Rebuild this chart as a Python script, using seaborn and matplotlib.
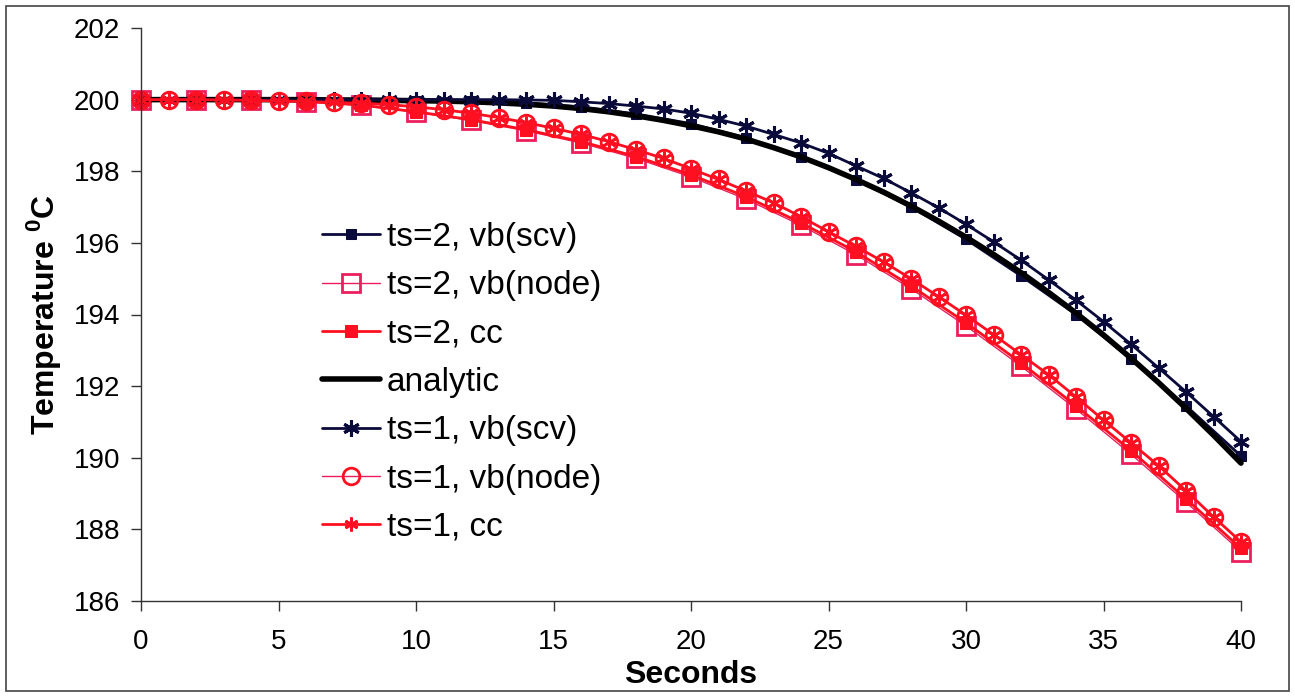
import matplotlib
matplotlib.use("Agg")
import matplotlib.pyplot as plt
import seaborn as sns
from matplotlib.patches import Rectangle

# ---- data ----
t2 = [0, 2, 4, 6, 8, 10, 12, 14, 16, 18, 20, 22, 24, 26, 28, 30, 32, 34, 36, 38, 40]
t1 = list(range(0, 41))

ts2_vb_scv = [200.0, 200.0, 200.0, 200.0, 199.99, 199.97, 199.95, 199.91, 199.8, 199.6, 199.33,
              198.93, 198.4, 197.76, 197.0, 196.1, 195.08, 194.0, 192.75, 191.45, 190.05]
ts2_vb_node = [200.0, 200.0, 199.99, 199.94, 199.84, 199.65, 199.42, 199.13, 198.79, 198.36, 197.84,
               197.22, 196.49, 195.67, 194.72, 193.68, 192.56, 191.36, 190.1, 188.76, 187.38]
ts2_cc = [200.0, 200.0, 199.99, 199.95, 199.85, 199.66, 199.44, 199.16, 198.83, 198.41, 197.9,
          197.29, 196.56, 195.75, 194.8, 193.77, 192.65, 191.45, 190.2, 188.85, 187.47]
analytic = [200.0, 200.0, 200.0, 200.0, 200.0, 200.0, 200.0, 199.99, 199.99, 199.98, 199.97,
            199.96, 199.94, 199.91, 199.87, 199.82, 199.75, 199.66, 199.55, 199.42, 199.27,
            199.1, 198.9, 198.66, 198.4, 198.1, 197.77, 197.42, 197.03, 196.61, 196.16,
            195.68, 195.17, 194.62, 194.04, 193.43, 192.78, 192.1, 191.38, 190.63, 189.85]
ts1_vb_scv = [200.0, 200.0, 200.0, 200.0, 200.0, 200.0, 200.0, 200.0, 200.0, 200.0, 200.0,
              200.0, 200.0, 200.0, 199.99, 199.98, 199.94, 199.89, 199.82, 199.74, 199.62,
              199.45, 199.26, 199.03, 198.79, 198.5, 198.15, 197.8, 197.4, 196.98, 196.52,
              196.03, 195.52, 194.97, 194.4, 193.8, 193.17, 192.51, 191.84, 191.15, 190.45]
ts1_vb_node = [200.0, 200.0, 200.0, 199.99, 199.98, 199.96, 199.95, 199.92, 199.9, 199.86, 199.8,
               199.72, 199.62, 199.5, 199.36, 199.2, 199.03, 198.83, 198.6, 198.36, 198.07,
               197.77, 197.45, 197.12, 196.73, 196.31, 195.9, 195.47, 195.0, 194.5, 193.98,
               193.44, 192.88, 192.32, 191.7, 191.05, 190.42, 189.78, 189.08, 188.35, 187.65]
ts1_cc = [200.0, 200.0, 200.0, 199.99, 199.98, 199.96, 199.95, 199.92, 199.9, 199.86, 199.8,
          199.72, 199.62, 199.5, 199.36, 199.2, 199.03, 198.83, 198.6, 198.36, 198.07,
          197.77, 197.45, 197.12, 196.73, 196.31, 195.9, 195.47, 195.0, 194.5, 193.98,
          193.44, 192.88, 192.32, 191.7, 191.05, 190.42, 189.78, 189.08, 188.35, 187.65]

labels = ["ts=2, vb(scv)", "ts=2, vb(node)", "ts=2, cc", "analytic",
          "ts=1, vb(scv)", "ts=1, vb(node)", "ts=1, cc"]
x_ticks = [0, 5, 10, 15, 20, 25, 30, 35, 40]
y_ticks = [186, 188, 190, 192, 194, 196, 198, 200, 202]

# ---- style ----
sns.set_style("white")
plt.rcParams['font.family'] = ['Liberation Sans', 'DejaVu Sans']
plt.rcParams['mathtext.fontset'] = 'custom'
plt.rcParams['mathtext.rm'] = 'Liberation Sans'
plt.rcParams['mathtext.bf'] = 'Liberation Sans:bold'
plt.rcParams['text.color'] = 'black'
plt.rcParams['axes.labelcolor'] = 'black'
plt.rcParams['xtick.color'] = 'black'
plt.rcParams['ytick.color'] = 'black'

navy = "#0B0B3B"
red = "#FF1020"
pink = "#EC1E5E"

fig = plt.figure(figsize=(12.95, 6.97), dpi=100)
ax = fig.add_axes([141/1295, 96/697, 1100/1295, 573/697])

star = (6, 2, 0)
common = dict(clip_on=False, sort=False, estimator=None, errorbar=None, ax=ax)

sns.lineplot(x=t2, y=ts2_vb_scv, color=navy, lw=2, marker='s', markersize=7,
             markeredgecolor=navy, markerfacecolor=navy, label=labels[0], **common)
sns.lineplot(x=t2, y=ts2_vb_node, color=pink, lw=1, marker='s', markersize=13,
             markeredgecolor=pink, markerfacecolor='none', markeredgewidth=2, label=labels[1], **common)
sns.lineplot(x=t2, y=ts2_cc, color=red, lw=2, marker='s', markersize=9,
             markeredgecolor=red, markerfacecolor=red, label=labels[2], **common)
sns.lineplot(x=t1, y=analytic, color='black', lw=4, label=labels[3], **common)
sns.lineplot(x=t1, y=ts1_vb_scv, color=navy, lw=2, marker=star, markersize=12,
             markeredgecolor=navy, markeredgewidth=2.2, label=labels[4], **common)
sns.lineplot(x=t1, y=ts1_vb_node, color=pink, lw=1, marker='o', markersize=12,
             markeredgecolor=red, markerfacecolor='none', markeredgewidth=2, label=labels[5], **common)
sns.lineplot(x=t1, y=ts1_cc, color=red, lw=2, marker=star, markersize=10,
             markeredgecolor=red, markeredgewidth=2, label=labels[6], **common)

ax.set_xlim(0, 40)
ax.set_ylim(186, 202)
ax.set_xticks(x_ticks)
ax.set_yticks(y_ticks)
ax.tick_params(axis='both', direction='out', length=7, width=1, color='#333333',
               labelsize=20, bottom=True, left=True)
ax.tick_params(axis='x', pad=13)
ax.tick_params(axis='y', pad=8)
for s in ['top', 'right']:
    ax.spines[s].set_visible(False)
for s in ['left', 'bottom']:
    ax.spines[s].set_color('#333333')
    ax.spines[s].set_linewidth(1)

ax.set_xlabel("Seconds", fontsize=23, fontweight='bold', labelpad=4)
ax.set_ylabel(r"Temperature $^{\mathbf{0}}$C", fontsize=23, fontweight='bold', labelpad=8)

leg = ax.legend(loc='upper left', bbox_to_anchor=(322/1295, 1 - 222/697),
                bbox_transform=fig.transFigure, frameon=False, fontsize=24,
                handlelength=1.75, handletextpad=0.2, labelspacing=0.52, borderpad=0,
                borderaxespad=0)

fig.patches.append(Rectangle((6/1295, 6/697), 1283/1295, 685/697, transform=fig.transFigure,
                             fill=False, edgecolor='#444444', lw=1.2))

fig.savefig("out.png", dpi=100)
